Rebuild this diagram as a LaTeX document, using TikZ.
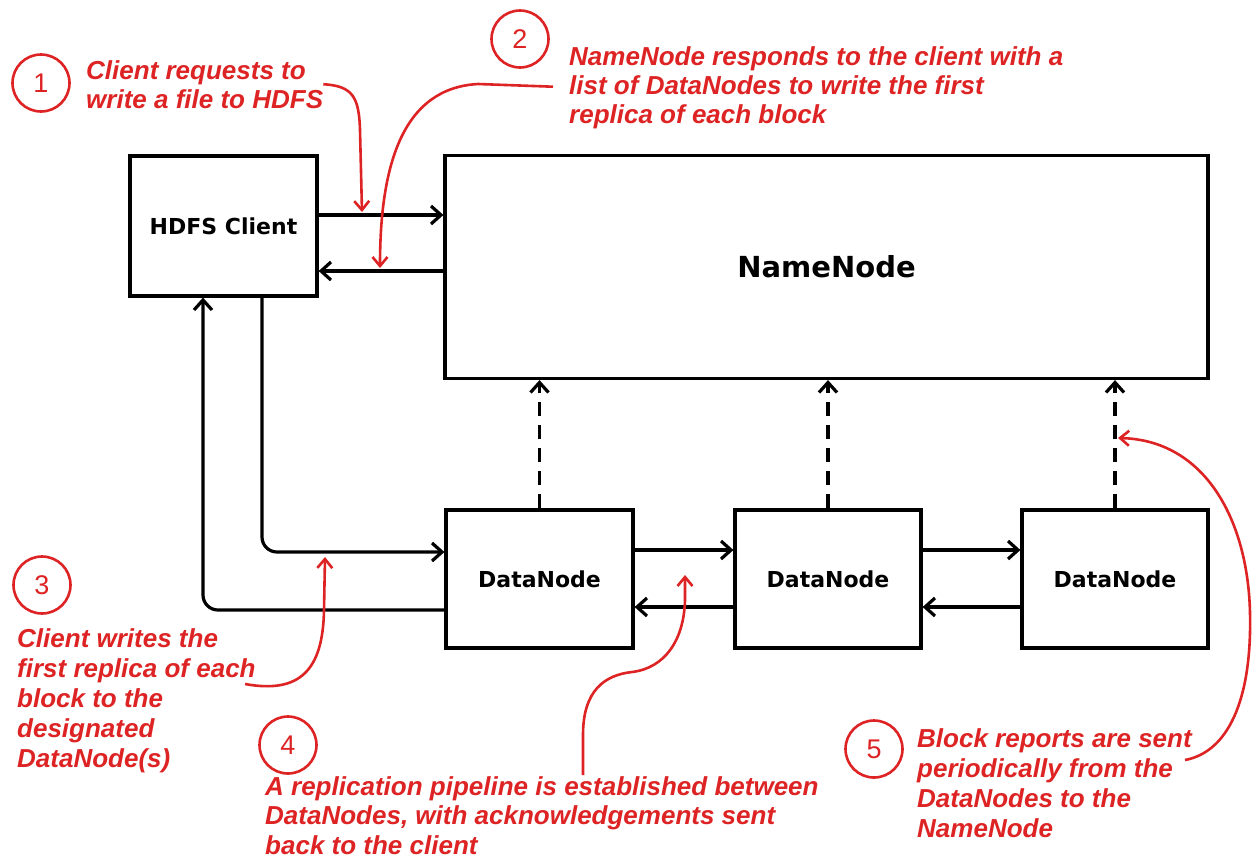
\documentclass[tikz,border=0pt]{standalone}
\usepackage{fontspec}
\setmainfont{Liberation Sans}
\newfontfamily\boxfont{DejaVu Sans}
\usetikzlibrary{arrows.meta}
\definecolor{callred}{RGB}{221,35,35}
\begin{document}
\begin{tikzpicture}[x=1pt,y=-1pt,
  box/.style={draw=black, line width=3.2pt, inner sep=0pt, font=\boxfont\bfseries\fontsize{22}{24}\selectfont},
  conn/.style={draw=black, line width=3.2pt, -{Straight Barb[length=10pt,width=18pt]}},
  dconn/.style={conn, dash pattern=on 14pt off 9pt},
  numc/.style={circle, draw=callred, line width=2.6pt, minimum size=57pt, inner sep=0pt, text=callred, font=\fontsize{27}{27}\selectfont},
  callout/.style={text=callred, align=left, inner sep=0pt, font=\bfseries\itshape\fontsize{26}{29}\selectfont},
  redarr/.style={draw=callred, line width=2.6pt, -{Straight Barb[length=9pt,width=15pt]}}
]
\useasboundingbox (0,0) rectangle (1258,860);

% boxes
\node[box, minimum width=187pt, minimum height=140pt] (client) at (223.5,226) {HDFS Client};
\node[box, minimum width=763pt, minimum height=223pt, font=\boxfont\bfseries\fontsize{29}{32}\selectfont] (nn) at (826.5,267) {NameNode};
\node[box, minimum width=187pt, minimum height=138pt] (dn1) at (539.5,579) {DataNode};
\node[box, minimum width=186pt, minimum height=138pt] (dn2) at (828,579) {DataNode};
\node[box, minimum width=186pt, minimum height=138pt] (dn3) at (1115,579) {DataNode};

% black connectors
\draw[conn] ([yshift=11pt]client.east) -- ([yshift=11pt]client.east -| nn.west);
\draw[conn] ([yshift=-45pt]client.east -| nn.west) -- ([yshift=-45pt]client.east);
\draw[conn, rounded corners=15pt] ([xshift=38.5pt]client.south) |- ([yshift=27pt]dn1.west);
\draw[conn, rounded corners=15pt] ([yshift=-31pt]dn1.west) -| ([xshift=-20.5pt]client.south);
\draw[conn] ([yshift=29pt]dn1.east) -- ([yshift=29pt]dn1.east -| dn2.west);
\draw[conn] ([yshift=-28pt]dn2.west) -- ([yshift=-28pt]dn2.west -| dn1.east);
\draw[conn] ([yshift=29pt]dn2.east) -- ([yshift=29pt]dn2.east -| dn3.west);
\draw[conn] ([yshift=-28pt]dn3.west) -- ([yshift=-28pt]dn3.west -| dn2.east);
\draw[dconn] (dn1.north) -- (dn1.north |- nn.south);
\draw[dconn] (dn2.north) -- (dn2.north |- nn.south);
\draw[dconn] (dn3.north) -- (dn3.north |- nn.south);

% numbered circles
\node[numc] (c1) at (41,83) {1};
\node[numc] (c2) at (520,39) {2};
\node[numc] (c3) at (42,585) {3};
\node[numc] (c4) at (288,745) {4};
\node[numc] (c5) at (874,749) {5};

% callout texts (anchor = baseline of the last line)
\node[callout, anchor=base west] (t1) at (86,108) {Client requests to\\write a file to HDFS};
\node[callout, anchor=base west] (t2) at (569,123) {NameNode responds to the client with a\\list of DataNodes to write the first\\replica of each block};
\node[callout, anchor=base west, font=\bfseries\itshape\fontsize{26}{30}\selectfont] (t3) at (17,767) {Client writes the\\first replica of each\\block to the\\designated\\DataNode(s)};
\node[callout, anchor=base west, font=\bfseries\itshape\fontsize{26}{29.5}\selectfont] (t4) at (265,854) {A replication pipeline is established between\\DataNodes, with acknowledgements sent\\back to the client};
\node[callout, anchor=base west, font=\bfseries\itshape\fontsize{26}{30}\selectfont] (t5) at (917,837) {Block reports are sent\\periodically from the\\DataNodes to the\\NameNode};

% callout arrow end points
\coordinate (p1) at (362,212);
\coordinate (p2) at (380,268);
\coordinate (s3) at (245,684);
\coordinate (p3) at (325,557);
\coordinate (s4) at (583,775);
\coordinate (p4) at (685,575);
\coordinate (s5) at (1185,760);
\coordinate (p5) at (1118,438);

% red callout arrows
\draw[redarr] (t1.east) .. controls (352,86) and (359,96) .. (360,130) -- (p1);
\draw[redarr, shorten <=16pt] (t2.west) -- (478,84) .. controls (405,88) and (380,160) .. (p2);
\draw[redarr] (s3) .. controls (300,694) and (323,670) .. (324,610) -- (p3);
\draw[redarr] (s4) -- (583,735) .. controls (583,690) and (605,675) .. (632,672) .. controls (665,668) and (684,640) .. (685,600) -- (p4);
\draw[redarr] (s5) .. controls (1228,752) and (1252,700) .. (1250,613) .. controls (1248,520) and (1205,440) .. (p5);
\end{tikzpicture}
\end{document}
